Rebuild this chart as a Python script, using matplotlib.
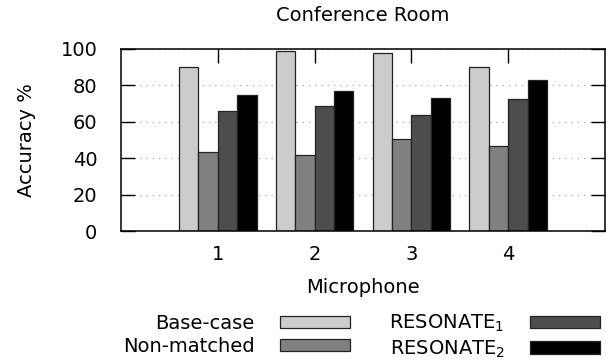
#!/usr/bin/env python3
"""Grouped bar chart: accuracy per microphone, conference room."""

import matplotlib
matplotlib.use("Agg")
import matplotlib.pyplot as plt
import numpy as np

MICS = ["1", "2", "3", "4"]
SERIES = ["Base-case", "Non-matched", r"RESONATE$_1$", r"RESONATE$_2$"]
BASE_CASE = [90, 99, 98, 90]
NON_MATCHED = [43.6, 41.8, 50.6, 46.6]
RESONATE_1 = [66.2, 68.8, 63.7, 72.3]
RESONATE_2 = [74.7, 77.0, 73.0, 83.1]
COLORS = ["#cccccc", "#808080", "#4d4d4d", "#000000"]

plt.rcParams["font.family"] = "DejaVu Sans"
plt.rcParams["font.size"] = 14
plt.rcParams["mathtext.fontset"] = "dejavusans"

fig = plt.figure(figsize=(6.07, 3.6), dpi=100)
ax = fig.add_axes([121 / 607, 1 - 231 / 360, 484 / 607, 182 / 360])

x = np.arange(1, len(MICS) + 1)
width = 0.2
values = [BASE_CASE, NON_MATCHED, RESONATE_1, RESONATE_2]
for i, (vals, label, color) in enumerate(zip(values, SERIES, COLORS)):
    offset = (i - 1.5) * width
    ax.bar(x + offset, vals, width, label=label, color=color,
           edgecolor="#222222", linewidth=0.9, zorder=2)

ax.set_xlim(0, 5)
ax.set_ylim(0, 100)
ax.set_xticks(x)
ax.set_xticklabels(MICS)
ax.set_yticks(np.arange(0, 101, 20))
ax.set_axisbelow(True)

# gnuplot-like ticks: inward, mirrored on all sides
ax.tick_params(axis="both", direction="in", length=10, width=1,
               top=True, right=True)
ax.tick_params(axis="y", pad=17)
ax.tick_params(axis="x", pad=10)
for sp in ax.spines.values():
    sp.set_linewidth(1.1)
    sp.set_zorder(3)

ax.yaxis.grid(True, linestyle=(0, (1, 4)), color="#a8a8a8", linewidth=0.9)

ax.set_ylabel("Accuracy %", labelpad=18)
ax.set_xlabel("Microphone", labelpad=10)
ax.set_title("Conference Room", fontsize=14, pad=20)

fig.legend(loc="lower right", bbox_to_anchor=(600 / 607, 0.5 / 360),
           ncol=2, frameon=False, markerfirst=False, borderpad=0,
           borderaxespad=0, handlelength=3.6, handleheight=0.6,
           handletextpad=1.3, columnspacing=2.05, labelspacing=0.22)

plt.savefig("out.png", dpi=100)
